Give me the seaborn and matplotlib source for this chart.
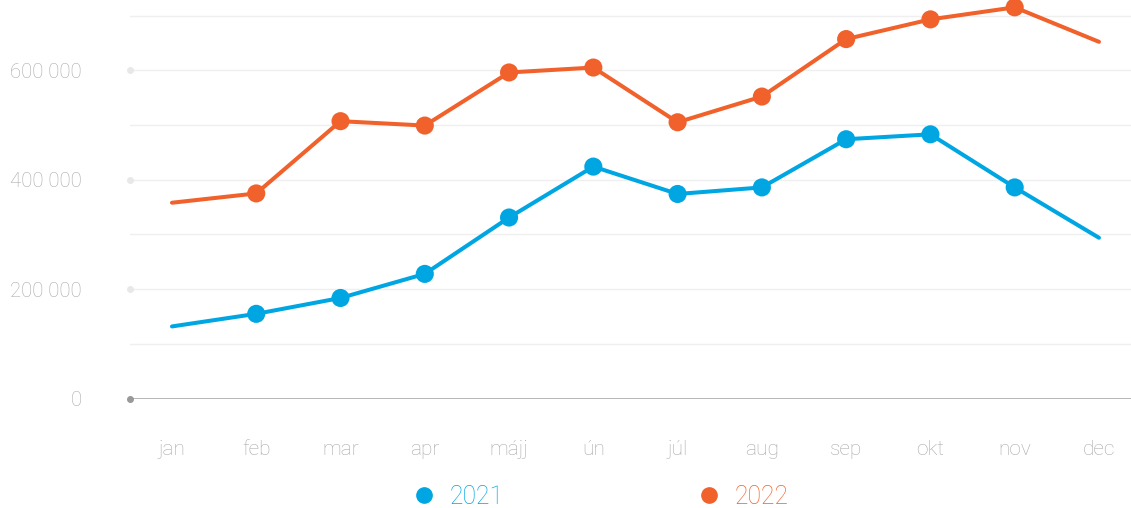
import matplotlib
matplotlib.use("Agg")
import matplotlib.pyplot as plt
from matplotlib.lines import Line2D
from matplotlib.ticker import FuncFormatter
import pandas as pd
import seaborn as sns

# adatok
months = ["jan", "feb", "mar", "apr", "májj", "ún", "júl", "aug", "sep", "okt", "nov", "dec"]
y2021 = [132000, 155000, 184000, 228000, 331000, 424000, 374000, 386000, 474000, 483000, 386000, 294000]
y2022 = [358000, 375000, 507000, 499000, 596000, 605000, 505000, 552000, 657000, 693000, 715000, 652000]
years = ["2021", "2022"]
colors = {"2021": "#00A6E2", "2022": "#F0612B"}

sns.set_theme(style="white")
plt.rcParams["font.family"] = ["Roboto", "DejaVu Sans"]
plt.rcParams["font.weight"] = "light"

df = pd.DataFrame({
    "month": months * 2,
    "x": list(range(len(months))) * 2,
    "value": y2021 + y2022,
    "year": [years[0]] * len(months) + [years[1]] * len(months),
})

fig = plt.figure(figsize=(11.31, 5.08), dpi=100)
ax = fig.add_axes([130 / 1131, 0.2152, 1 - 130 / 1131, 1 - 0.2152])

# vonalak
sns.lineplot(data=df, x="x", y="value", hue="year", palette=colors,
             linewidth=2.9, legend=False, ax=ax, zorder=3)
for ln in ax.lines:
    ln.set_solid_capstyle("round")
    ln.set_clip_on(False)
# pontok csak feb-nov
inner = df[(df["x"] > 0) & (df["x"] < len(months) - 1)]
sns.scatterplot(data=inner, x="x", y="value", hue="year", palette=colors,
                s=170, edgecolor="none", legend=False, ax=ax, zorder=4, clip_on=False)

ax.set_xlim(-0.498, 11.38)
ax.set_ylim(0, 728400)

# rács
for v in range(100000, 800000, 100000):
    ax.axhline(v, color="#efefef", lw=1, zorder=1)
ax.axhline(0, color="#aaaaaa", lw=1.2, zorder=2)
ticks = [0, 200000, 400000, 600000]
ax.plot([ax.get_xlim()[0]] * len(ticks[1:]), ticks[1:], "o", color="#e8e8e8",
        ms=4, clip_on=False, zorder=2)
ax.plot([ax.get_xlim()[0]], [0], "o", color="#999999", ms=4, clip_on=False, zorder=2)

ax.set_yticks(ticks)
ax.yaxis.set_major_formatter(FuncFormatter(lambda v, p: f"{int(v):,}".replace(",", " ")))
ax.set_xticks(range(len(months)))
ax.set_xticklabels(months)
ax.tick_params(axis="y", length=0, pad=35, labelsize=14.7, labelcolor="#a9a9a9")
ax.tick_params(axis="x", length=0, pad=29.5, labelsize=15, labelcolor="#a9a9a9")
ax.set_xlabel("")
ax.set_ylabel("")
ax.grid(False)
for s in ax.spines.values():
    s.set_visible(False)

handles = [Line2D([], [], marker="o", ls="none", color=colors[y], ms=11) for y in years]
leg = fig.legend(handles, years, loc="center left", bbox_to_anchor=(414 / 1131, 0.022),
                 ncol=2, frameon=False, fontsize=17.8, handlelength=0.8,
                 handletextpad=0.65, columnspacing=7.9, borderpad=0, borderaxespad=0)
for t, y in zip(leg.get_texts(), years):
    t.set_color(colors[y])

fig.savefig("out.png", dpi=100)
